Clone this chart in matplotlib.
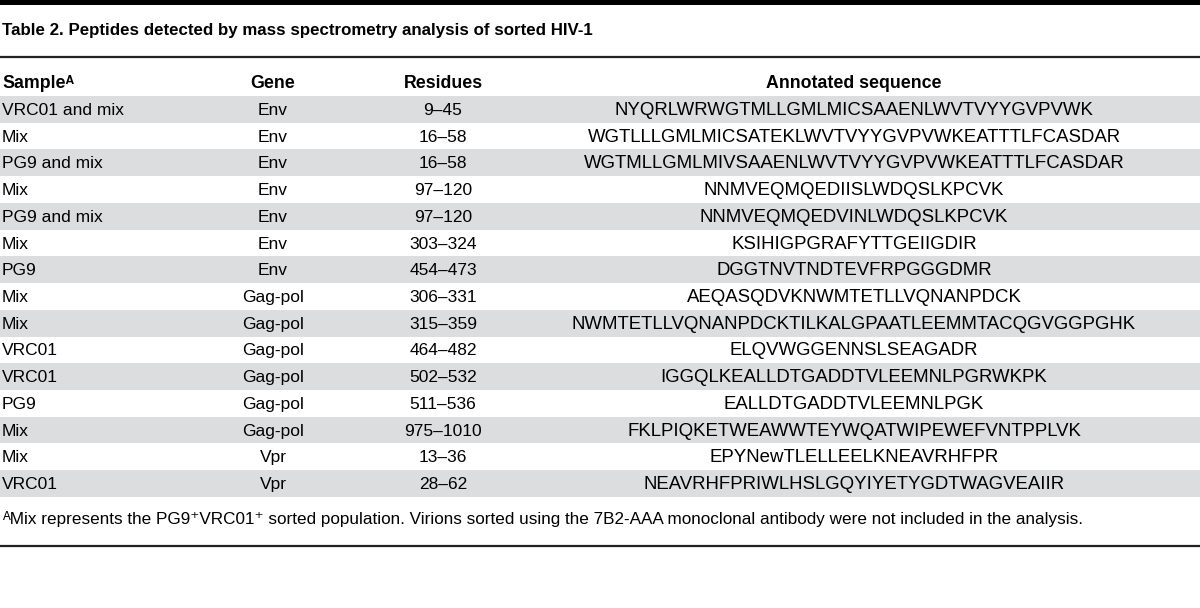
import matplotlib.pyplot as plt
from matplotlib import font_manager

# table content
title = "Table 2. Peptides detected by mass spectrometry analysis of sorted HIV-1"
headers = ["Sample\u1d2c", "Gene", "Residues", "Annotated sequence"]
samples = ["VRC01 and mix", "Mix", "PG9 and mix", "Mix", "PG9 and mix", "Mix", "PG9",
           "Mix", "Mix", "VRC01", "VRC01", "PG9", "Mix", "Mix", "VRC01"]
genes = ["Env", "Env", "Env", "Env", "Env", "Env", "Env", "Gag-pol", "Gag-pol",
         "Gag-pol", "Gag-pol", "Gag-pol", "Gag-pol", "Vpr", "Vpr"]
residues = ["9\u201345", "16\u201358", "16\u201358", "97\u2013120", "97\u2013120", "303\u2013324",
            "454\u2013473", "306\u2013331", "315\u2013359", "464\u2013482", "502\u2013532",
            "511\u2013536", "975\u20131010", "13\u201336", "28\u201362"]
sequences = [
    "NYQRLWRWGTMLLGMLMICSAAENLWVTVYYGVPVWK",
    "WGTLLLGMLMICSATEKLWVTVYYGVPVWKEATTTLFCASDAR",
    "WGTMLLGMLMIVSAAENLWVTVYYGVPVWKEATTTLFCASDAR",
    "NNMVEQMQEDIISLWDQSLKPCVK",
    "NNMVEQMQEDVINLWDQSLKPCVK",
    "KSIHIGPGRAFYTTGEIIGDIR",
    "DGGTNVTNDTEVFRPGGGDMR",
    "AEQASQDVKNWMTETLLVQNANPDCK",
    "NWMTETLLVQNANPDCKTILKALGPAATLEEMMTACQGVGGPGHK",
    "ELQVWGGENNSLSEAGADR",
    "IGGQLKEALLDTGADDTVLEEMNLPGRWKPK",
    "EALLDTGADDTVLEEMNLPGK",
    "FKLPIQKETWEAWWTEYWQATWIPEWEFVNTPPLVK",
    "EPYNewTLELLEELKNEAVRHFPR",
    "NEAVRHFPRIWLHSLGQYIYETYGDTWAGVEAIIR",
]
footnote = ("\u1d2cMix represents the PG9\u207aVRC01\u207a sorted population. Virions sorted "
            "using the 7B2-AAA monoclonal antibody were not included in the analysis.")

names = {f.name for f in font_manager.fontManager.ttflist}
main = "Liberation Sans Narrow" if "Liberation Sans Narrow" in names else "Liberation Sans"
fam = [main, "DejaVu Sans"]

W, H = 1200, 608
fig = plt.figure(figsize=(W / 100, H / 100), dpi=100)
ax = fig.add_axes([0, 0, 1, 1])
ax.set_xlim(0, W)
ax.set_ylim(H, 0)
ax.axis("off")

row_top, row_h = 96, 26.73
col_x = [2, 273, 443, 854]
col_ha = ["left", "center", "center", "center"]
col_fs = [12.5, 12.5, 12.5, 13.4]
gray = "#dcdddf"

# rules
ax.axhspan(0, 5, color="black", lw=0)
ax.axhline(57, color="#222222", lw=1.6)
ax.axhline(546, color="#222222", lw=1.6)

ax.text(2, 31, title, family=fam, fontsize=12.2, fontweight="bold", va="center", ha="left")

for x, ha, h in zip(col_x, col_ha, headers):
    ax.text(x, 83, h, family=fam, fontsize=12.8, fontweight="bold", va="center", ha=ha)

for i, row in enumerate(zip(samples, genes, residues, sequences)):
    y0 = row_top + i * row_h
    if i % 2 == 0:
        ax.axhspan(y0, y0 + row_h, color=gray, lw=0)
    for x, ha, fs, val in zip(col_x, col_ha, col_fs, row):
        ax.text(x, y0 + row_h / 2 + 1, val, family=fam, fontsize=fs, va="center", ha=ha)

ax.text(2, 519, footnote, family=fam, fontsize=12.3, va="center", ha="left")

fig.savefig("out.png", dpi=100)
